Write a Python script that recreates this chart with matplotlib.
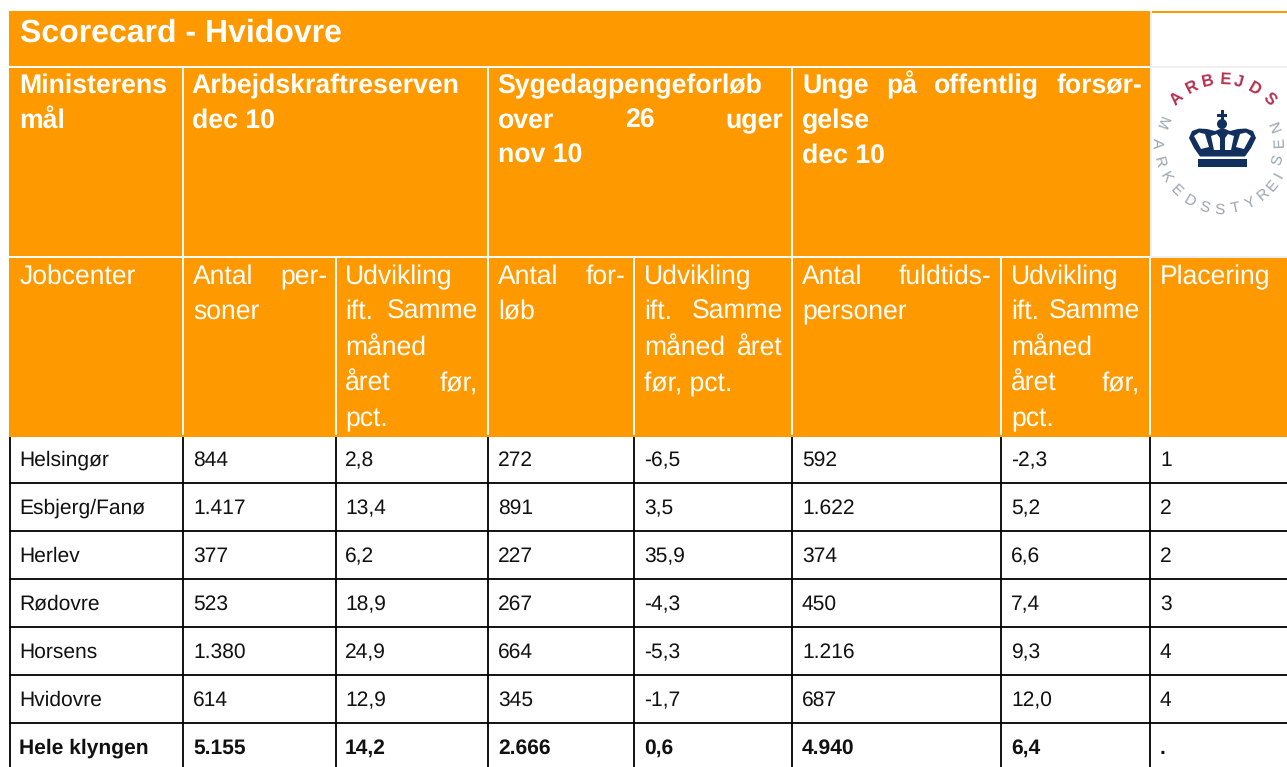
import numpy as np
import matplotlib
matplotlib.use("Agg")
import matplotlib.pyplot as plt
from matplotlib.patches import Rectangle, Polygon, Circle

plt.rcParams['font.family'] = ['Liberation Sans', 'DejaVu Sans']
plt.rcParams['text.hinting'] = 'no_hinting'

title = "Scorecard - Hvidovre"
jobcenters = ["Helsingør", "Esbjerg/Fanø", "Herlev", "Rødovre", "Horsens", "Hvidovre", "Hele klyngen"]
antal_personer = ["844", "1.417", "377", "523", "1.380", "614", "5.155"]
udv_personer = ["2,8", "13,4", "6,2", "18,9", "24,9", "12,9", "14,2"]
antal_forloeb = ["272", "891", "227", "267", "664", "345", "2.666"]
udv_forloeb = ["-6,5", "3,5", "35,9", "-4,3", "-5,3", "-1,7", "0,6"]
antal_unge = ["592", "1.622", "374", "450", "1.216", "687", "4.940"]
udv_unge = ["-2,3", "5,2", "6,6", "7,4", "9,3", "12,0", "6,4"]
placering = ["1", "2", "2", "3", "4", "4", "."]
columns = [jobcenters, antal_personer, udv_personer, antal_forloeb, udv_forloeb, antal_unge, udv_unge, placering]

ORANGE = "#FF9900"
COLS = [9, 183, 336, 488, 634, 792, 1001, 1150, 1287]
BODY_TOP = 437
ROW_H = 48

fig = plt.figure(figsize=(12.87, 7.67), dpi=100)
ax = fig.add_axes([0, 0, 1, 1])
ax.set_xlim(0, 1287)
ax.set_ylim(767, 0)
ax.axis("off")
renderer = fig.canvas.get_renderer()


def just(words, x0, x1, y, **kw):
    """Justified line: words spread evenly between x0 and x1."""
    arts = [ax.text(x0, y, w, va="baseline", ha="left", color=kw.get("color", "white"),
                    fontsize=kw["fontsize"], fontweight=kw.get("fontweight", "normal")) for w in words]
    if len(words) == 1:
        return
    widths = [a.get_window_extent(renderer).width for a in arts]
    gap = (x1 - x0 - sum(widths)) / (len(words) - 1)
    x = x0
    for a, w in zip(arts, widths):
        a.set_x(x)
        x += w + gap


# orange header blocks
ax.add_patch(Rectangle((9, 11), 1141, 426, fc=ORANGE, ec="none", zorder=0))
ax.add_patch(Rectangle((1150, 11), 137, 1.5, fc=ORANGE, ec="none", zorder=0))
ax.add_patch(Rectangle((1150, 258), 137, 179, fc=ORANGE, ec="none", zorder=0))

# white header lines
W = dict(color="white", lw=1.4, solid_capstyle="butt", zorder=1)
ax.plot([9, 1150], [66.7, 66.7], **W)
ax.plot([9, 1150], [257, 257], **W)
for c in [183, 488, 792]:
    ax.plot([c, c], [66.7, 257], **W)
for c in COLS[1:-1]:
    ax.plot([c, c], [257, 435], **W)
ax.plot([1150.5, 1150.5], [12, 257], color="#f0f0f0", lw=1.4, zorder=1)
ax.plot([1150, 1287], [66.7, 66.7], color="#f0f0f0", lw=1.4, zorder=1)
ax.plot([1150, 1287], [257, 257], color="#f0f0f0", lw=1.4, zorder=1)

# header text
ax.text(20, 42, title, color="white", fontsize=23, fontweight="bold", va="baseline")
B = dict(fontsize=19.15, fontweight="bold")
Y2 = [93, 128, 163]
just(["Ministerens"], 19.5, 167, Y2[0], **B)
just(["mål"], 19.5, 167, Y2[1], **B)
just(["Arbejdskraftreserven"], 191.5, 461, Y2[0], **B)
just(["dec 10"], 191.5, 461, Y2[1], **B)
just(["Sygedagpengeforløb"], 497.5, 783, Y2[0], **B)
just(["over", "26", "uger"], 497.5, 783, Y2[1], **B)
just(["nov 10"], 497.5, 783, Y2[2], **B)
just(["Unge", "på", "offentlig", "forsør-"], 802, 1142, Y2[0], **B)
just(["gelse"], 802, 1142, Y2[1], **B)
just(["dec 10"], 802, 1142, Y2[2], **B)

R = dict(fontsize=19.1)
Y3 = [284, 319, 356, 391, 426]
just(["Jobcenter"], 20, 167, Y3[0], **R)
just(["Antal", "per-"], 193, 327, Y3[0], **R)
just(["soner"], 193, 327, Y3[1], **R)
just(["Antal", "for-"], 498, 625, Y3[0], **R)
just(["løb"], 498, 625, Y3[1], **R)
just(["Antal", "fuldtids-"], 802, 991, Y3[0], **R)
just(["personer"], 802, 991, Y3[1], **R)
just(["Placering"], 1160, 1270, Y3[0], **R)
for x0, x1 in [(345, 478), (1011, 1140)]:
    just(["Udvikling"], x0, x1, Y3[0], **R)
    just(["ift.", "Samme"], x0, x1, Y3[1], **R)
    just(["måned"], x0, x1, Y3[2], **R)
    just(["året", "før,"], x0, x1, Y3[3], **R)
    just(["pct."], x0, x1, Y3[4], **R)
just(["Udvikling"], 644, 783, Y3[0], **R)
just(["ift.", "Samme"], 644, 783, Y3[1], **R)
just(["måned", "året"], 644, 783, Y3[2], **R)
just(["før, pct."], 644, 783, Y3[3], **R)

# body grid
K = dict(color="black", lw=1.3, solid_capstyle="butt", zorder=2)
for c in COLS[:-1]:
    x = 10 if c == 9 else c
    ax.plot([x, x], [BODY_TOP, 767], **K)
for i in range(1, len(jobcenters)):
    y = BODY_TOP - 2 + i * ROW_H
    ax.plot([9, 1287], [y, y], **K)

# body text
TEXT_X = [19, 193, 345, 498, 644, 802, 1011, 1160]
for col, x in zip(columns, TEXT_X):
    for i, val in enumerate(col):
        ax.text(x, 466 + i * ROW_H, val, color="#111111", fontsize=15.1, va="baseline",
                fontweight="bold" if i == len(col) - 1 else "normal")

# logo
LX, LY, LR = 1222, 145, 65
RED = "#b4304f"
GREY = "#9aa3ae"
for ch, a in zip("ARBEJDS", [134, 117, 102.5, 87, 75, 60, 44]):
    r = np.radians(a)
    ax.text(LX + LR * np.cos(r), LY - LR * np.sin(r), ch, color=RED, fontsize=12,
            fontweight="bold", ha="center", va="center", rotation=a - 90)
grey_angles = [160, 178, 195, 210, 225, 240, 254, 268, 282, 296, 310, 321, 332, 345, 3, 20]
for ch, a in zip("MARKEDSSTYREISEN", grey_angles):
    r = np.radians(a)
    lr = 58 if a in (345, 3, 20) else LR
    ax.text(LX + lr * np.cos(r), LY - lr * np.sin(r), ch, color=GREY, fontsize=11,
            ha="center", va="center", rotation=a + 90)

NAVY = "#12305e"
ax.add_patch(Rectangle((1198, 158.5), 49, 8, fc=NAVY, ec="none", zorder=3))
ax.add_patch(Polygon([(1200, 156.5), (1194, 148), (1189, 138), (1192, 131), (1199, 128.5), (1207, 129),
                      (1215, 131), (1222.5, 128), (1230, 131), (1238, 129), (1246, 128.5),
                      (1253, 131), (1256, 138), (1251, 148), (1245, 156.5)],
                     closed=True, fc=NAVY, ec="none", zorder=3))
for pts in [[(1194, 136), (1199, 132.5), (1205, 134), (1209, 147), (1201, 149)],
            [(1251, 136), (1246, 132.5), (1240, 134), (1236, 147), (1244, 149)],
            [(1211, 136), (1217, 134), (1220, 138), (1220, 150), (1214, 150)],
            [(1234, 136), (1228, 134), (1225, 138), (1225, 150), (1231, 150)]]:
    ax.add_patch(Polygon(pts, closed=True, fc="white", ec="none", zorder=4))
ax.add_patch(Circle((1222, 124), 5, fc=NAVY, ec="none", zorder=3))
ax.add_patch(Rectangle((1220.5, 110), 3, 10, fc=NAVY, ec="none", zorder=3))
ax.add_patch(Rectangle((1217, 113.5), 10, 3, fc=NAVY, ec="none", zorder=3))

fig.savefig("out.png", dpi=100)
